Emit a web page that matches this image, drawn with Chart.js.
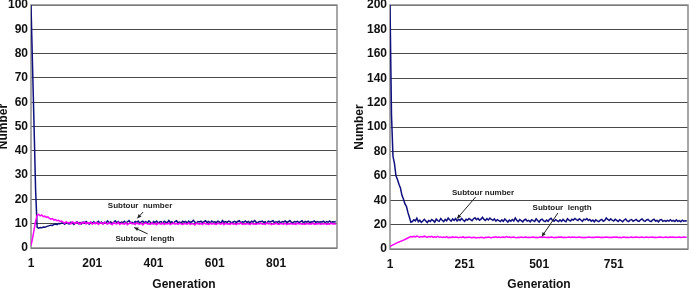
<!DOCTYPE html>
<html>
<head>
<meta charset="utf-8">
<script src="https://cdn.jsdelivr.net/npm/chart.js@4/dist/chart.umd.min.js"></script>
<style>
  html, body { margin: 0; padding: 0; background: #fff; }
  #wrap { position: relative; width: 693px; height: 293px; overflow: hidden; }
  .box { position: absolute; top: 0; height: 293px; }
  #left { left: 0; width: 345px; }
  #right { left: 345px; width: 348px; }
</style>
</head>
<body>
<div id="wrap">
  <div class="box" id="left"><canvas id="leftChart"></canvas></div>
  <div class="box" id="right"><canvas id="rightChart"></canvas></div>
</div>
<script>
// Generations are sampled every 5 steps: 1, 6, 11, ... 996
const GEN_STEP = 5;

// Left panel (y 0..100)
const leftTicksX = [1, 201, 401, 601, 801];
const leftNumber = [
  100, 75, 50, 24, 8.5,
  8.2, 8.4, 8.3, 8.6, 8.5, 8.8, 9.0, 9.2,
  9.4, 9.3, 9.7, 9.9, 9.6, 10.1, 10.0, 10.3,
  10.2, 9.8, 10.5, 10.1, 9.9, 10.6, 10.3, 9.7, 10.4, 10.8,
  10.0, 10.5, 9.9, 10.7, 10.2, 10.9, 10.4, 9.8, 10.6, 10.3,
  10.8, 10.1, 10.5, 11.0, 10.2, 10.7, 9.9, 10.6, 10.4, 11.1,
  10.3, 10.8, 10.0, 10.6, 11.2, 10.4, 10.9, 10.2, 10.7, 10.5,
  11.0, 10.3, 10.8, 11.3, 10.4, 10.6, 10.1, 10.9, 10.5, 11.1,
  10.2, 10.7, 11.0, 10.4, 10.8, 10.3, 11.2, 10.6, 10.0, 10.9,
  10.5, 11.1, 10.3, 10.7, 10.9, 10.2, 11.0, 10.6, 10.4, 11.3,
  10.5, 10.8, 10.1, 10.9, 11.2, 10.4, 10.7, 10.3, 11.0, 10.6,
  10.9, 10.2, 11.1, 10.5, 10.8, 11.4, 10.6, 10.3, 10.9, 10.7,
  11.0, 10.4, 10.8, 11.2, 10.5, 10.9, 10.3, 11.1, 10.6, 10.8,
  10.4, 11.0, 10.7, 10.2, 11.3, 10.6, 10.9, 10.5, 11.1, 10.8,
  10.3, 10.7, 11.0, 10.5, 10.9, 11.2, 10.4, 10.8, 10.6, 11.1,
  10.5, 10.9, 10.3, 11.0, 10.7, 11.3, 10.6, 10.4, 10.9, 10.8,
  11.1, 10.5, 10.8, 10.2, 11.0, 10.7, 10.9, 11.2, 10.4, 10.8,
  10.6, 11.0, 10.3, 10.9, 10.7, 11.1, 10.5, 10.8, 11.3, 10.6,
  10.4, 10.9, 10.7, 11.0, 10.5, 10.8, 11.2, 10.3, 10.9, 10.6,
  11.0, 10.4, 10.8, 10.7, 11.1, 10.5, 10.9, 10.6, 10.8, 10.7,
  11.0, 10.4, 10.9, 10.6, 11.1, 10.5, 10.8, 10.7, 10.9
];
const leftLength = [
  1.0, 4.0, 7.5, 11.0, 13.5,
  13.8, 13.2, 13.6, 12.9, 13.1, 12.6, 12.8, 12.2,
  11.9, 12.1, 11.5, 11.7, 11.2, 11.4, 10.9, 11.1,
  10.6, 10.2, 10.8, 10.3, 10.5, 9.9, 10.7, 10.4, 10.1, 10.6,
  10.3, 9.8, 10.5, 10.2, 10.7, 9.9, 10.4, 10.1, 10.6, 9.8,
  10.3, 10.0, 10.5, 9.7, 10.2, 10.4, 9.9, 10.6, 10.1, 9.8,
  10.3, 10.0, 9.6, 10.4, 10.1, 9.9, 10.5, 9.7, 10.2, 10.0,
  9.8, 10.3, 9.6, 10.1, 10.4, 9.9, 10.2, 9.7, 10.3, 10.0,
  9.8, 10.2, 9.5, 10.1, 10.3, 9.9, 10.0, 9.7, 10.4, 9.8,
  10.1, 9.6, 10.2, 10.0, 9.8, 10.3, 9.7, 10.1, 9.9, 10.2,
  9.6, 10.0, 10.3, 9.8, 10.1, 9.7, 10.2, 9.9, 9.6, 10.1,
  10.0, 9.8, 10.3, 9.7, 10.1, 9.9, 9.5, 10.2, 10.0, 9.8,
  10.1, 9.7, 10.3, 9.9, 10.0, 9.6, 10.2, 9.8, 10.1, 9.9,
  9.7, 10.2, 10.0, 9.8, 10.3, 9.6, 10.1, 9.9, 10.0, 9.7,
  10.2, 9.8, 10.0, 9.6, 10.1, 9.9, 10.3, 9.7, 10.0, 9.8,
  10.1, 9.9, 9.6, 10.2, 9.8, 10.0, 9.7, 10.1, 9.9, 10.2,
  9.8, 10.0, 9.7, 10.3, 9.9, 10.1, 9.6, 10.0, 9.8, 10.2,
  9.9, 9.7, 10.1, 10.0, 9.8, 10.2, 9.6, 10.0, 9.9, 10.1,
  9.8, 10.0, 9.7, 10.2, 9.9, 10.1, 9.8, 10.0, 9.7, 10.1,
  9.9, 10.0, 9.8, 10.2, 9.7, 10.0, 9.9, 10.1, 9.8, 10.0,
  9.9, 10.1, 9.7, 10.0, 9.8, 10.2, 9.9, 10.0, 9.8
];

// Right panel (y 0..200)
const rightTicksX = [1, 251, 501, 751];
const rightNumber = [
  200, 110, 76, 70, 60, 57, 53, 50, 44, 41, 37, 35, 30, 26, 22,
  22.5, 24.0, 23.1, 25.2, 22.4, 23.6, 21.8, 22.9, 24.3, 23.0,
  21.7, 23.4, 22.6, 24.1, 23.2, 22.0, 24.5, 23.3, 22.7, 25.0,
  23.6, 22.4, 24.2, 23.1, 25.3, 23.9, 22.8, 24.6, 23.5, 24.9,
  22.9, 24.3, 23.4, 25.1, 23.8, 22.6, 24.4, 23.7, 25.0, 24.1,
  23.2, 24.8, 25.6, 24.0, 25.2, 23.6, 24.5, 26.0, 24.3, 23.4,
  24.9, 23.8, 25.3, 24.2, 23.5, 24.7, 22.9, 24.0, 23.3, 22.5,
  23.9, 22.7, 24.6, 23.4, 22.1, 23.7, 22.8, 24.2, 23.0, 25.4,
  23.6, 22.5, 24.1, 23.3, 22.2, 23.8, 24.4, 22.9, 23.5, 22.3,
  24.0, 23.2, 22.6, 24.7, 23.4, 22.1, 23.9, 24.5, 23.0, 22.4,
  23.8, 22.7, 24.3, 25.2, 23.5, 22.8, 24.1, 23.3, 22.5, 23.9,
  22.6, 24.2, 23.1, 22.4, 24.8, 23.6, 22.9, 24.4, 23.7, 25.0,
  24.1, 23.3, 24.7, 23.8, 22.6, 24.5, 23.9, 24.9, 23.4, 24.2,
  22.8, 23.7, 22.3, 24.0, 23.1, 22.5, 23.6, 24.3, 22.7, 23.4,
  25.5, 24.2, 23.3, 24.8, 23.6, 22.9, 24.4, 23.5, 22.6, 24.0,
  23.2, 22.4, 23.8, 24.6, 23.0, 22.5, 23.7, 24.1, 22.8, 23.5,
  24.3, 23.1, 22.6, 23.9, 24.7, 23.3, 22.7, 23.8, 24.2, 23.0,
  22.5, 23.6, 24.4, 22.9, 23.4, 22.3, 23.8, 24.1, 22.7, 23.3,
  22.6, 23.5, 22.9, 24.0, 22.8, 23.4, 22.5, 23.9, 22.7, 23.3,
  22.4, 23.6, 22.8, 23.2, 22.9
];
const rightLength = [
  2.0, 2.8, 3.4, 4.0, 4.6, 5.2, 5.7, 6.2, 6.8, 7.3, 7.8, 8.4, 9.0, 9.6, 10.2,
  9.8, 10.4, 9.9, 10.6, 10.1, 9.7, 10.3, 9.9, 10.5, 10.0,
  9.6, 10.2, 9.8, 10.4, 9.5, 10.0, 9.7, 10.3, 9.6, 9.9,
  9.4, 9.8, 9.5, 10.1, 9.3, 9.7, 9.5, 9.9, 9.4, 9.8,
  9.6, 9.2, 9.7, 9.5, 9.9, 9.3, 9.6, 9.4, 9.8, 9.5,
  9.2, 9.6, 9.4, 9.0, 9.5, 9.3, 9.7, 9.4, 9.1, 9.6,
  9.4, 9.8, 9.5, 9.2, 9.7, 9.6, 10.0, 9.5, 9.8, 9.4,
  9.7, 9.9, 9.5, 10.1, 9.6, 9.8, 9.4, 9.7, 9.9, 9.5,
  9.3, 9.7, 9.5, 9.8, 9.4, 9.6, 9.9, 9.5, 9.7, 9.4,
  9.6, 9.8, 9.5, 9.7, 9.3, 9.6, 9.8, 9.5, 9.9, 9.6,
  9.4, 9.7, 9.5, 9.8, 9.6, 9.3, 9.7, 9.5, 9.9, 9.6,
  9.8, 9.5, 9.7, 9.4, 9.6, 9.9, 9.5, 9.8, 9.6, 9.7,
  9.4, 9.6, 9.8, 9.5, 9.7, 9.3, 9.6, 9.5, 9.8, 9.6,
  9.4, 9.7, 9.5, 9.8, 9.6, 9.9, 9.5, 9.7, 9.4, 9.6,
  9.8, 9.6, 9.4, 9.7, 9.5, 9.9, 9.6, 9.8, 9.5, 9.7,
  9.3, 9.6, 9.8, 9.5, 9.7, 9.4, 9.6, 9.9, 9.5, 9.7,
  9.8, 9.6, 9.4, 9.7, 9.9, 9.5, 9.6, 9.8, 9.5, 9.7,
  9.6, 9.9, 9.5, 9.7, 9.4, 9.6, 9.8, 9.7, 9.5, 9.6,
  9.8, 9.5, 9.7, 9.9, 9.6, 9.8, 9.5, 9.7, 9.6, 9.8,
  9.5, 9.7, 9.9, 9.6, 9.7
];

// Callout labels, anchored in data units (generation, value)
const leftNotes = [
  { text: 'Subtour  number', at: [357, 17.3], from: [367, 14.8], to: [348, 12.2] },
  { text: 'Subtour  length', at: [373, 3.7], from: [382, 5.8], to: [338, 8.4] }
];
const rightNotes = [
  { text: 'Subtour number', at: [313, 45.9], from: [288, 42.6], to: [226, 25.0] },
  { text: 'Subtour  length', at: [578, 33.6], from: [564, 29.5], to: [510, 10.2] }
];

const FONT = '"Liberation Sans", Arial, Helvetica, sans-serif';
const BLUE = '#10107f';
const MAGENTA = '#ff00ff';

function toPoints(values) {
  return values.map((v, i) => ({ x: 1 + i * GEN_STEP, y: v }));
}

// Frame around plot area
const framePlugin = {
  id: 'frame',
  beforeDatasetsDraw(chart) {
    const { ctx, chartArea: a } = chart;
    ctx.save();
    ctx.strokeStyle = '#8a8a8a';
    ctx.lineWidth = 1.5;
    ctx.strokeRect(a.left, a.top, a.right - a.left, a.bottom - a.top);
    ctx.restore();
  }
};

// Callouts with arrows
const notesPlugin = {
  id: 'notes',
  afterDatasetsDraw(chart, args, opts) {
    const { ctx } = chart;
    const x = chart.scales.x, y = chart.scales.y;
    ctx.save();
    ctx.font = 'bold 8px ' + FONT;
    ctx.fillStyle = '#222';
    ctx.strokeStyle = '#222';
    ctx.textAlign = 'center';
    ctx.textBaseline = 'middle';
    (opts.items || []).forEach(n => {
      ctx.fillText(n.text, x.getPixelForValue(n.at[0]), y.getPixelForValue(n.at[1]));
      const x1 = x.getPixelForValue(n.from[0]), y1 = y.getPixelForValue(n.from[1]);
      const x2 = x.getPixelForValue(n.to[0]), y2 = y.getPixelForValue(n.to[1]);
      ctx.lineWidth = 1;
      ctx.beginPath();
      ctx.moveTo(x1, y1);
      ctx.lineTo(x2, y2);
      ctx.stroke();
      const ang = Math.atan2(y2 - y1, x2 - x1);
      const h = 4.5;
      ctx.beginPath();
      ctx.moveTo(x2, y2);
      ctx.lineTo(x2 - h * Math.cos(ang - 0.45), y2 - h * Math.sin(ang - 0.45));
      ctx.lineTo(x2 - h * Math.cos(ang + 0.45), y2 - h * Math.sin(ang + 0.45));
      ctx.closePath();
      ctx.fill();
    });
    ctx.restore();
  }
};

function makeChart(id, cfg) {
  const ctx = document.getElementById(id).getContext('2d');
  return new Chart(ctx, {
    type: 'line',
    data: {
      datasets: [
        {
          label: 'Subtour length',
          data: toPoints(cfg.length),
          borderColor: MAGENTA,
          borderWidth: 1.5,
          pointRadius: 0,
          tension: 0
        },
        {
          label: 'Subtour number',
          data: toPoints(cfg.number),
          borderColor: BLUE,
          borderWidth: 1.5,
          pointRadius: 0,
          tension: 0
        }
      ]
    },
    options: {
      responsive: true,
      maintainAspectRatio: false,
      animation: false,
      devicePixelRatio: 1,
      layout: { padding: { top: 5, right: cfg.padRight, left: 0, bottom: 0 } },
      plugins: {
        legend: { display: false },
        tooltip: { enabled: false },
        notes: { items: cfg.notes }
      },
      scales: {
        x: {
          type: 'linear',
          min: 1,
          max: 1000,
          afterBuildTicks: s => { s.ticks = cfg.ticksX.map(v => ({ value: v })); },
          afterFit: s => { s.height = cfg.xHeight; s.paddingLeft = 0; s.paddingRight = 0; },
          grid: { display: false, drawTicks: false },
          border: { display: false },
          ticks: {
            color: '#111',
            padding: 8,
            maxRotation: 0,
            autoSkip: false,
            font: { family: FONT, size: 12, weight: 'bold' },
            callback: v => String(v)
          },
          title: {
            display: true,
            text: 'Generation',
            color: '#111',
            padding: { top: 0, bottom: 1 },
            font: { family: FONT, size: 12, weight: 'bold' }
          }
        },
        y: {
          min: 0,
          max: cfg.yMax,
          afterBuildTicks: s => { s.ticks = cfg.yTicks.map(v => ({ value: v })); },
          afterFit: s => { s.width = cfg.yWidth; s.paddingTop = 0; s.paddingBottom = 0; },
          grid: { color: '#4a4a4a', lineWidth: 1, drawTicks: false },
          border: { display: false },
          ticks: {
            color: '#111',
            padding: 3,
            font: { family: FONT, size: 12, weight: 'bold' }
          },
          title: {
            display: true,
            text: 'Number',
            color: '#111',
            padding: { top: cfg.titlePad, bottom: 0 },
            font: { family: FONT, size: 12, weight: 'bold' }
          }
        }
      }
    },
    plugins: [framePlugin, notesPlugin]
  });
}

const leftYTicks = [0, 10, 20, 30, 40, 50, 60, 70, 80, 90, 100];
const rightYTicks = [0, 20, 40, 60, 80, 100, 120, 140, 160, 180, 200];

makeChart('leftChart', {
  number: leftNumber, length: leftLength, notes: leftNotes,
  ticksX: leftTicksX, yTicks: leftYTicks, yMax: 100,
  yWidth: 31, xHeight: 45, padRight: 8, titlePad: -4
});
makeChart('rightChart', {
  number: rightNumber, length: rightLength, notes: rightNotes,
  ticksX: rightTicksX, yTicks: rightYTicks, yMax: 200,
  yWidth: 45, xHeight: 44, padRight: 5, titlePad: 7
});
</script>
</body>
</html>
